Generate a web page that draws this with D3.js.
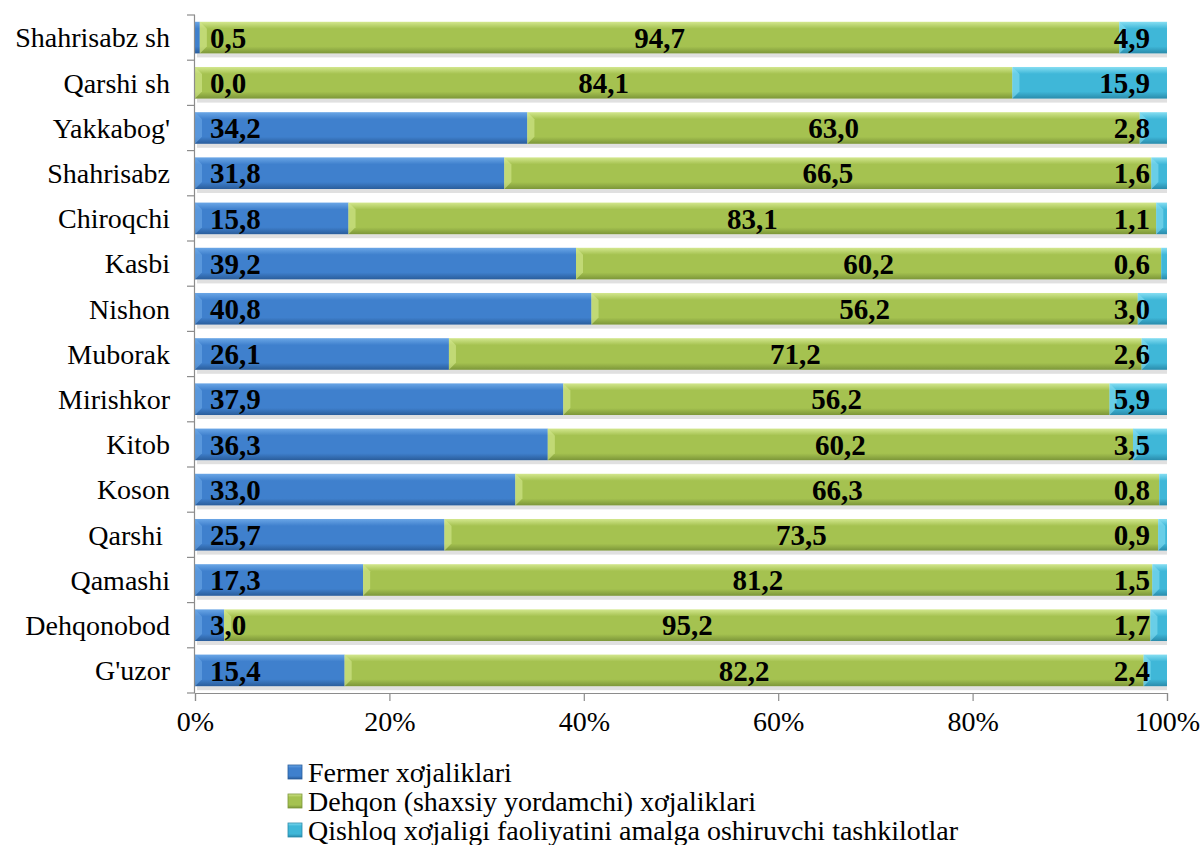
<!DOCTYPE html>
<html>
<head>
<meta charset="utf-8">
<script src="https://cdn.jsdelivr.net/npm/d3@7"></script>
</head>
<body style="margin:0">
<script>
// data, top row first
const categories = ["Shahrisabz sh", "Qarshi sh", "Yakkabog'", "Shahrisabz", "Chiroqchi", "Kasbi", "Nishon",
  "Muborak", "Mirishkor", "Kitob", "Koson", "Qarshi ", "Qamashi", "Dehqonobod", "G'uzor"];
const fermer = [0.5, 0.0, 34.2, 31.8, 15.8, 39.2, 40.8, 26.1, 37.9, 36.3, 33.0, 25.7, 17.3, 3.0, 15.4];
const dehqon = [94.7, 84.1, 63.0, 66.5, 83.1, 60.2, 56.2, 71.2, 56.2, 60.2, 66.3, 73.5, 81.2, 95.2, 82.2];
const tashkilot = [4.9, 15.9, 2.8, 1.6, 1.1, 0.6, 3.0, 2.6, 5.9, 3.5, 0.8, 0.9, 1.5, 1.7, 2.4];
const seriesNames = ["Fermer xơjaliklari", "Dehqon (shaxsiy yordamchi) xơjaliklari",
  "Qishloq xơjaligi faoliyatini amalga oshiruvchi tashkilotlar"];
const xTicks = [0, 0.2, 0.4, 0.6, 0.8, 1];

// colours: [top, mid, bottom]
const palette = [
  ["#6aa6e6", "#3f80cd", "#2a5d9b"],
  ["#d3e78e", "#a5c250", "#7c9639"],
  ["#86def2", "#3fb7d8", "#2a8bab"]
];

const FONT = "'Times New Roman'";
const W = 1201, H = 845;
const margin = {top: 15, right: 34, bottom: 152, left: 195};

const rows = categories.map((c, i) => ({cat: c, s0: fermer[i], s1: dehqon[i], s2: tashkilot[i]}));
const stack = d3.stack().keys(["s0", "s1", "s2"]).offset(d3.stackOffsetExpand);
const layers = stack(rows);

const svg = d3.select("body").append("svg").attr("width", W).attr("height", H);

// gradients
const defs = svg.append("defs");
palette.forEach((p, i) => {
  const g = defs.append("linearGradient").attr("id", "grad" + i)
    .attr("x1", 0).attr("y1", 0).attr("x2", 0).attr("y2", 1);
  g.append("stop").attr("offset", "0%").attr("stop-color", p[0]);
  g.append("stop").attr("offset", "22%").attr("stop-color", p[1]);
  g.append("stop").attr("offset", "78%").attr("stop-color", p[1]);
  g.append("stop").attr("offset", "100%").attr("stop-color", p[2]);
});

const x = d3.scaleLinear().domain([0, 1]).range([margin.left, W - margin.right]);
const y = d3.scaleBand().domain(categories)
  .range([margin.top, H - margin.bottom])
  .paddingInner(0.3).paddingOuter(0.15);

// soft shadow under each bar (plain rects instead of a filter)
svg.append("g").selectAll("rect").data(categories).join("rect")
  .attr("x", x(0) + 2).attr("y", d => y(d) + y.bandwidth())
  .attr("width", x(1) - x(0) - 2).attr("height", 4)
  .attr("fill", "#000").attr("opacity", 0.12);

// bars
const barG = svg.append("g");
layers.forEach((layer, li) => {
  const g = barG.append("g");
  g.selectAll("rect").data(layer).join("rect")
    .attr("x", d => x(d[0]))
    .attr("y", d => y(d.data.cat))
    .attr("width", d => Math.max(0, x(d[1]) - x(d[0])))
    .attr("height", y.bandwidth())
    .attr("fill", `url(#grad${li})`);
  // bevel on the left end of each segment
  g.selectAll("path").data(layer.filter(d => x(d[1]) - x(d[0]) > 8)).join("path")
    .attr("d", d => {
      const x0 = x(d[0]), y0 = y(d.data.cat), h = y.bandwidth(), b = 7;
      return `M${x0},${y0}L${x0 + b},${y0 + b}L${x0 + b},${y0 + h - b}L${x0},${y0 + h}Z`;
    })
    .attr("fill", palette[li][0]).attr("opacity", 0.6);
});

function serif(sel, size){
  sel.style("font-family", FONT).style("font-size", size + "px");
}

// value labels
const fmt = v => v.toFixed(1).replace(".", ",");
const labG = svg.append("g");
function valText(sel){
  sel.call(serif, 29).style("font-weight", "bold")
     .attr("fill", "#000").attr("dy", "0.35em")
     .attr("y", d => y(d.data.cat) + y.bandwidth() / 2);
}
labG.selectAll(".v0").data(layers[0]).join("text").call(valText)
  .attr("x", d => x(d[0]) + 15)
  .text((d, i) => fmt(fermer[i]));
labG.selectAll(".v1").data(layers[1]).join("text").call(valText)
  .attr("x", d => (x(d[0]) + x(d[1])) / 2).attr("text-anchor", "middle")
  .text((d, i) => fmt(dehqon[i]));
labG.selectAll(".v2").data(layers[2]).join("text").call(valText)
  .attr("x", d => x(d[1]) - 17).attr("text-anchor", "end")
  .text((d, i) => fmt(tashkilot[i]));

// y axis: line + ticks at band edges
const yAx = svg.append("g").attr("stroke", "#8c8c8c").attr("stroke-width", 1.2);
yAx.append("line").attr("x1", margin.left - 0.5).attr("x2", margin.left - 0.5)
  .attr("y1", margin.top).attr("y2", H - margin.bottom);
yAx.selectAll(".t").data(d3.range(categories.length + 1)).join("line")
  .attr("x1", margin.left - 8).attr("x2", margin.left)
  .attr("y1", i => margin.top + i * y.step()).attr("y2", i => margin.top + i * y.step());

svg.append("g").selectAll("text").data(categories).join("text")
  .attr("x", margin.left - 25)
  .attr("y", d => y(d) + y.bandwidth() / 2)
  .attr("dy", "0.35em").attr("text-anchor", "end")
  .call(serif, 28).style("white-space", "pre")
  .text(d => d);

// x axis
const xAxis = d3.axisBottom(x).tickValues(xTicks).tickFormat(d3.format(".0%")).tickSize(8).tickPadding(10);
const xAxG = svg.append("g").attr("transform", `translate(0,${H - margin.bottom})`).call(xAxis)
  .attr("font-family", null);
xAxG.select(".domain").attr("stroke", "#8c8c8c").attr("stroke-width", 1.2);
xAxG.selectAll(".tick line").attr("stroke", "#8c8c8c").attr("stroke-width", 1.2);
xAxG.selectAll("text").call(serif, 28).attr("fill", "#000");

// legend
const leg = svg.append("g").attr("transform", "translate(288,772)");
seriesNames.forEach((name, i) => {
  const row = leg.append("g").attr("transform", `translate(0,${i * 29})`);
  row.append("rect").attr("x", 0).attr("y", -7).attr("width", 14).attr("height", 14)
    .attr("fill", `url(#grad${i})`).attr("stroke", palette[i][2]).attr("stroke-width", 0.8);
  row.append("text").attr("x", 20).attr("dy", "0.35em").call(serif, 28).text(name);
});
</script>
</body>
</html>
